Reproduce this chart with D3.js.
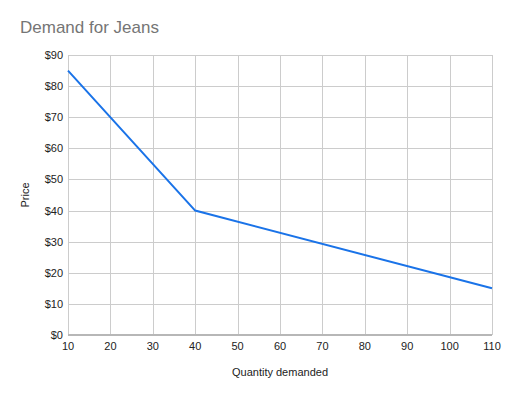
<!DOCTYPE html>
<html>
<head>
<meta charset="utf-8">
<script src="https://cdn.jsdelivr.net/npm/d3@7"></script>
<style>
  body { margin: 0; background: #fff; }
  svg { display: block; font-family: Arial, "Liberation Sans", sans-serif; }
</style>
</head>
<body>
<div id="chart"></div>
<script>
var quantity = [10, 40, 110];
var price = [85, 40, 15];
var xTicks = [10, 20, 30, 40, 50, 60, 70, 80, 90, 100, 110];
var yTicks = [0, 10, 20, 30, 40, 50, 60, 70, 80, 90];

var w = 512;
var h = 396;
var margin = {top: 55, right: 20, bottom: 61, left: 68};

var svg = d3.select("#chart")
          .append("svg")
          .attr("width", w)
          .attr("height", h);

var x = d3.scaleLinear()
          .domain([10, 110])
          .range([margin.left, w - margin.right]);
var y = d3.scaleLinear()
          .domain([0, 90])
          .range([h - margin.bottom, margin.top]);

// grid
svg.append("g")
   .selectAll("line")
   .data(xTicks)
   .enter()
   .append("line")
   .attr("x1", function(d) { return Math.round(x(d)) + 0.5; })
   .attr("x2", function(d) { return Math.round(x(d)) + 0.5; })
   .attr("y1", y(90))
   .attr("y2", y(0))
   .attr("stroke", "#cccccc");

svg.append("g")
   .selectAll("line")
   .data(yTicks)
   .enter()
   .append("line")
   .attr("x1", x(10))
   .attr("x2", x(110))
   .attr("y1", function(d) { return Math.round(y(d)) + 0.5; })
   .attr("y2", function(d) { return Math.round(y(d)) + 0.5; })
   .attr("stroke", "#cccccc");

// baseline
svg.append("line")
   .attr("x1", x(10))
   .attr("x2", x(110))
   .attr("y1", y(0))
   .attr("y2", y(0))
   .attr("stroke", "#b7b7b7")
   .attr("stroke-width", 2);

// tick labels
svg.append("g")
   .selectAll("text")
   .data(yTicks)
   .enter()
   .append("text")
   .text(function(d) { return "$" + d; })
   .attr("text-anchor", "end")
   .attr("x", x(10) - 5)
   .attr("y", function(d) { return y(d) + 4; })
   .attr("font-size", "11px")
   .attr("fill", "#222");

svg.append("g")
   .selectAll("text")
   .data(xTicks)
   .enter()
   .append("text")
   .text(function(d) { return d; })
   .attr("text-anchor", "middle")
   .attr("x", function(d) { return x(d); })
   .attr("y", y(0) + 15)
   .attr("font-size", "11px")
   .attr("fill", "#222");

// the line
var line = d3.line()
   .x(function(d) { return x(d[0]); })
   .y(function(d) { return y(d[1]); });

svg.append("path")
   .datum(d3.zip(quantity, price))
   .attr("d", line)
   .attr("fill", "none")
   .attr("stroke", "#1a73e8")
   .attr("stroke-width", 2);

// titles
svg.append("text")
   .text("Demand for Jeans")
   .attr("x", 20)
   .attr("y", 33)
   .attr("font-size", "17px")
   .attr("fill", "#757575");

svg.append("text")
   .text("Quantity demanded")
   .attr("text-anchor", "middle")
   .attr("x", (x(10) + x(110)) / 2)
   .attr("y", 376)
   .attr("font-size", "11px")
   .attr("fill", "#222");

svg.append("text")
   .text("Price")
   .attr("text-anchor", "middle")
   .attr("transform", "translate(29," + ((y(0) + y(90)) / 2) + ") rotate(-90)")
   .attr("font-size", "11px")
   .attr("fill", "#222");
</script>
</body>
</html>
